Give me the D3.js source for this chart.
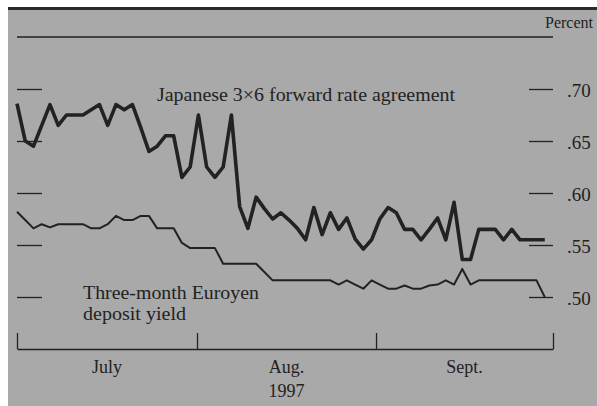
<!DOCTYPE html>
<html>
<head>
<meta charset="utf-8">
<script src="https://cdn.jsdelivr.net/npm/d3@7"></script>
<style>
  html, body { margin: 0; padding: 0; background: #fff; }
  svg { display: block; }
  text { font-family: "Liberation Serif", "Times New Roman", serif; fill: #222; }
</style>
</head>
<body>
<script>
// ---- Data (business-day observations, 1 July – end of Sept. 1997) ----
const fraValues = [
  0.686, 0.650, 0.645, 0.665, 0.685, 0.665, 0.675, 0.675, 0.675, 0.680,
  0.685, 0.665, 0.685, 0.680, 0.685, 0.663, 0.640, 0.645, 0.655, 0.655,
  0.615, 0.625, 0.675, 0.625, 0.615, 0.625, 0.675, 0.587, 0.566, 0.596,
  0.585, 0.575, 0.581, 0.574, 0.566, 0.555, 0.586, 0.560, 0.581, 0.565,
  0.576, 0.556, 0.546, 0.555, 0.575, 0.586, 0.581, 0.565, 0.565, 0.555,
  0.565, 0.576, 0.555, 0.591, 0.536, 0.536, 0.565, 0.565, 0.565, 0.555,
  0.565, 0.555, 0.555, 0.555, 0.555
];
const euroyenValues = [
  0.582, 0.574, 0.566, 0.570, 0.567, 0.570, 0.570, 0.570, 0.570, 0.566,
  0.566, 0.570, 0.578, 0.574, 0.574, 0.578, 0.578, 0.566, 0.566, 0.566,
  0.552, 0.547, 0.547, 0.547, 0.547, 0.532, 0.532, 0.532, 0.532, 0.532,
  0.524, 0.516, 0.516, 0.516, 0.516, 0.516, 0.516, 0.516, 0.516, 0.512,
  0.516, 0.512, 0.508, 0.516, 0.512, 0.508, 0.508, 0.511, 0.508, 0.508,
  0.511, 0.512, 0.516, 0.512, 0.527, 0.512, 0.516, 0.516, 0.516, 0.516,
  0.516, 0.516, 0.516, 0.516, 0.500
];
// month boundaries expressed in observation-index units
const monthBoundaries = [0, 21.83, 43.54, 65];
const monthLabels = ["July", "Aug.", "Sept."];
const yearLabel = "1997";
const yTicks = [0.50, 0.55, 0.60, 0.65, 0.70];
const yTop = 0.75;

const W = 597, H = 406;
const svg = d3.select("body").append("svg").attr("width", W).attr("height", H);

// background (scanned grey panel)
svg.append("rect").attr("x", 8).attr("y", 8).attr("width", W - 8).attr("height", H - 8)
  .attr("fill", "#a9a9a9");
svg.append("line").attr("x1", 8).attr("x2", W).attr("y1", 8.5).attr("y2", 8.5)
  .attr("stroke", "#2a2a2a").attr("stroke-width", 3);

const x = d3.scaleLinear().domain([0, 65]).range([17, 553]);
const y = d3.scaleLinear().domain([0.50, 0.75]).range([297, 37]);

const ink = "#222";

// top rule (0.75 level)
svg.append("line").attr("x1", x(0)).attr("x2", x(65))
  .attr("y1", y(yTop)).attr("y2", y(yTop))
  .attr("stroke", ink).attr("stroke-width", 1.4);

// left ticks (inside)
const leftAxis = svg.append("g").attr("transform", `translate(${x(0)},0)`)
  .call(d3.axisRight(y).tickValues(yTicks).tickSize(25).tickFormat(""));
leftAxis.select(".domain").remove();
leftAxis.selectAll("line").attr("stroke", ink).attr("stroke-width", 1.3);

// right ticks and labels
const rightAxis = svg.append("g").attr("transform", `translate(${x(65) - 24},0)`)
  .call(d3.axisRight(y).tickValues(yTicks).tickSize(24).tickPadding(14)
    .tickFormat(d => d3.format(".2f")(d).replace(/^0/, "")));
rightAxis.select(".domain").remove();
rightAxis.selectAll("line").attr("stroke", ink).attr("stroke-width", 1.3);
rightAxis.selectAll("text").attr("font-size", 19).attr("fill", ink)
  .attr("font-family", "Liberation Serif").attr("dy", "0.4em");

svg.append("text").attr("x", 593).attr("y", 28).attr("text-anchor", "end")
  .attr("font-size", 16).text("Percent");

// x axis
const xAxis = svg.append("g").attr("transform", `translate(0,349)`)
  .call(d3.axisBottom(x).tickValues(monthBoundaries).tickSize(-16).tickSizeOuter(0).tickFormat(""));
xAxis.select(".domain").attr("stroke", ink).attr("stroke-width", 1.4);
xAxis.selectAll("line").attr("stroke", ink).attr("stroke-width", 1.3);

monthLabels.forEach((m, i) => {
  svg.append("text")
    .attr("x", (x(monthBoundaries[i]) + x(monthBoundaries[i + 1])) / 2)
    .attr("y", 373).attr("text-anchor", "middle").attr("font-size", 18).text(m);
});
svg.append("text")
  .attr("x", (x(monthBoundaries[1]) + x(monthBoundaries[2])) / 2)
  .attr("y", 397).attr("text-anchor", "middle").attr("font-size", 18).text(yearLabel);

// series
const line = d3.line().x((d, i) => x(i)).y(d => y(d)).curve(d3.curveLinear);
svg.append("path").datum(euroyenValues).attr("d", line)
  .attr("fill", "none").attr("stroke", ink).attr("stroke-width", 2)
  .attr("stroke-linejoin", "round");
svg.append("path").datum(fraValues).attr("d", line)
  .attr("fill", "none").attr("stroke", ink).attr("stroke-width", 3.6)
  .attr("stroke-linejoin", "round");

// series labels
svg.append("text").attr("x", 157).attr("y", 100.5).attr("font-size", 18)
  .attr("textLength", 298).attr("lengthAdjust", "spacingAndGlyphs")
  .text("Japanese 3\u00d76 forward rate agreement");
svg.append("text").attr("x", 83).attr("y", 299).attr("font-size", 18)
  .attr("textLength", 176).attr("lengthAdjust", "spacingAndGlyphs")
  .text("Three-month Euroyen");
svg.append("text").attr("x", 83).attr("y", 319.5).attr("font-size", 18)
  .attr("textLength", 103).attr("lengthAdjust", "spacingAndGlyphs")
  .text("deposit yield");
</script>
</body>
</html>
